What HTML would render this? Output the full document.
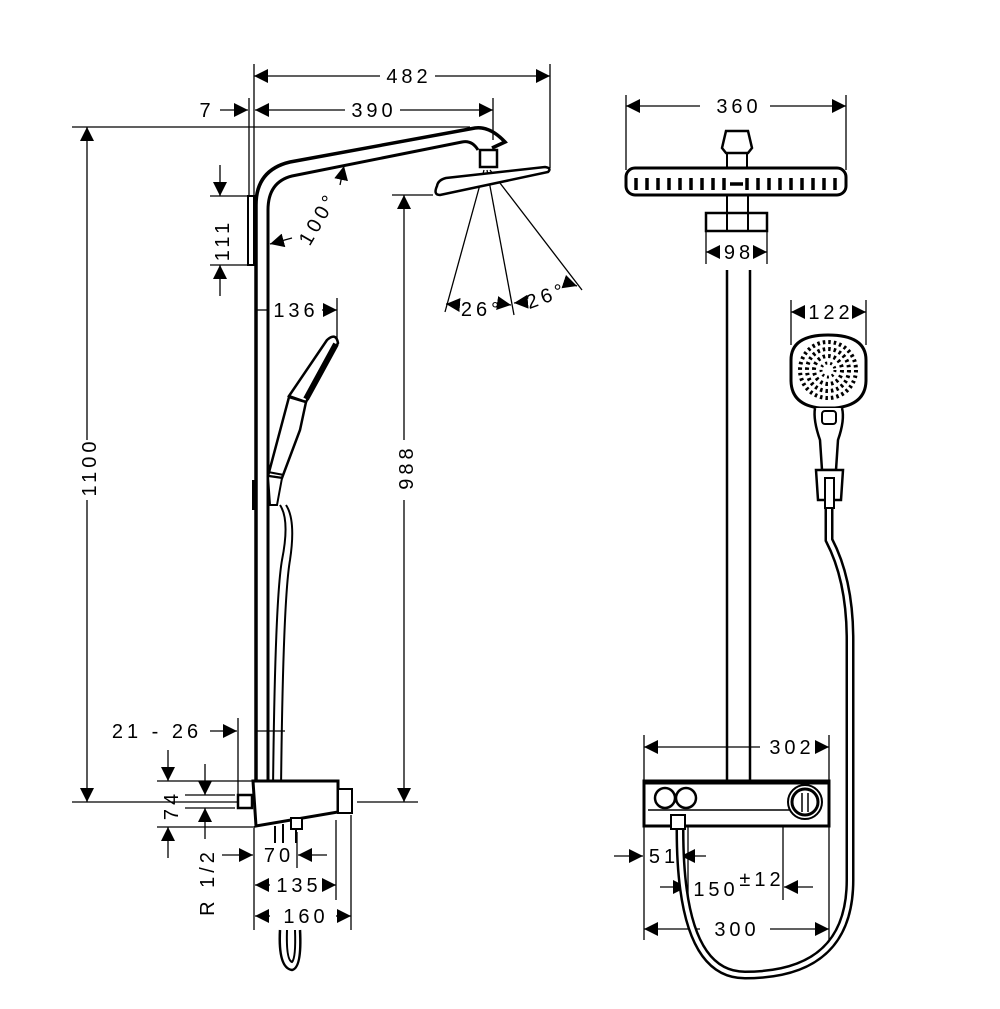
<!DOCTYPE html>
<html><head><meta charset="utf-8"><style>
html,body{margin:0;padding:0;background:#fff}
svg{display:block}
text{font-family:"Liberation Sans",sans-serif;font-size:20px;fill:#000;letter-spacing:4px}
</style></head><body>
<svg width="1000" height="1009" viewBox="0 0 1000 1009" xmlns="http://www.w3.org/2000/svg">
<defs>
<marker id="a" viewBox="0 0 10 10" refX="10" refY="5" markerWidth="14" markerHeight="14" markerUnits="userSpaceOnUse" orient="auto"><path d="M0,0 L10,5 L0,10z" fill="#000"/></marker>
</defs>
<g stroke="#000" stroke-width="1.3" fill="none">
<line x1="254" y1="64" x2="254" y2="200"/>
<line x1="550" y1="64" x2="550" y2="168"/>
<line x1="380" y1="76" x2="254" y2="76" marker-end="url(#a)"/>
<line x1="435" y1="76" x2="550" y2="76" marker-end="url(#a)"/>
<line x1="493" y1="98" x2="493" y2="140"/>
<line x1="249" y1="98" x2="249" y2="196"/>
<line x1="345" y1="110" x2="255" y2="110" marker-end="url(#a)"/>
<line x1="400" y1="110" x2="493" y2="110" marker-end="url(#a)"/>
<line x1="220" y1="110" x2="248" y2="110" marker-end="url(#a)"/>
<line x1="72" y1="127" x2="470" y2="127"/>
<line x1="87" y1="440" x2="87" y2="127" marker-end="url(#a)"/>
<line x1="87" y1="500" x2="87" y2="802" marker-end="url(#a)"/>
<line x1="72" y1="802" x2="245" y2="802"/>
<line x1="357" y1="802" x2="418" y2="802"/>
<line x1="392" y1="195" x2="433" y2="195"/>
<line x1="404" y1="440" x2="404" y2="195" marker-end="url(#a)"/>
<line x1="404" y1="500" x2="404" y2="802" marker-end="url(#a)"/>
<line x1="210" y1="196" x2="250" y2="196"/>
<line x1="210" y1="265" x2="250" y2="265"/>
<line x1="220" y1="165" x2="220" y2="196" marker-end="url(#a)"/>
<line x1="220" y1="296" x2="220" y2="265" marker-end="url(#a)"/>
<line x1="340" y1="185" x2="344" y2="166" marker-end="url(#a)"/>
<line x1="292" y1="238" x2="270" y2="244" marker-end="url(#a)"/>
<line x1="484" y1="170" x2="445" y2="312"/>
<line x1="487" y1="170" x2="514" y2="315"/>
<line x1="490" y1="170" x2="582" y2="290"/>
<line x1="460" y1="305" x2="446" y2="304" marker-end="url(#a)"/>
<line x1="497" y1="303" x2="511" y2="305" marker-end="url(#a)"/>
<line x1="525" y1="302" x2="514" y2="303" marker-end="url(#a)"/>
<line x1="565" y1="282" x2="577" y2="286" marker-end="url(#a)"/>
<line x1="337" y1="298" x2="337" y2="340"/>
<line x1="322" y1="310" x2="337" y2="310" marker-end="url(#a)"/>
<line x1="268" y1="310" x2="256" y2="310"/>
<line x1="238" y1="718" x2="238" y2="800"/>
<line x1="210" y1="731" x2="237" y2="731" marker-end="url(#a)"/>
<line x1="255" y1="731" x2="285" y2="731"/>
<line x1="157" y1="781" x2="253" y2="781"/>
<line x1="157" y1="827" x2="253" y2="827"/>
<line x1="168" y1="750" x2="168" y2="781" marker-end="url(#a)"/>
<line x1="168" y1="858" x2="168" y2="827" marker-end="url(#a)"/>
<line x1="185" y1="795" x2="235" y2="795"/>
<line x1="185" y1="808" x2="235" y2="808"/>
<line x1="205" y1="764" x2="205" y2="795" marker-end="url(#a)"/>
<line x1="205" y1="839" x2="205" y2="808" marker-end="url(#a)"/>
<line x1="254" y1="826" x2="254" y2="930"/>
<line x1="336" y1="820" x2="336" y2="900"/>
<line x1="351" y1="815" x2="351" y2="930"/>
<line x1="297" y1="832" x2="297" y2="868"/>
<line x1="222" y1="855" x2="253" y2="855" marker-end="url(#a)"/>
<line x1="327" y1="855" x2="298" y2="855" marker-end="url(#a)"/>
<line x1="270" y1="885" x2="255" y2="885" marker-end="url(#a)"/>
<line x1="322" y1="885" x2="336" y2="885" marker-end="url(#a)"/>
<line x1="270" y1="916" x2="255" y2="916" marker-end="url(#a)"/>
<line x1="336" y1="916" x2="351" y2="916" marker-end="url(#a)"/>
</g>
<g stroke="#000" fill="none">
<path d="M273,790 Q275,600 282,560 Q290,520 280,505" stroke-width="2"/>
<path d="M281,790 Q283,600 290,560 Q296,520 286,505" stroke-width="2"/>
<path d="M256,780 L256,205 Q256,170 290,162 L475,128 Q490,126 505,142 L492,148" stroke-width="3.5"/>
<path d="M268,780 L268,210 Q268,182 292,176 L462,142 Q472,140 478,150" stroke-width="3"/>
<rect x="248" y="196" width="6" height="69" stroke-width="2" fill="#fff"/>
<rect x="480" y="150" width="17" height="17" stroke-width="2.5" fill="#fff"/>
<path d="M437,186 Q438,180 446,178 L545,167 Q552,168 548,172 L440,195 Q433,195 437,186z" stroke-width="2.5" fill="#fff"/>
<path d="M289,396 L327,340 Q336,332 338,343 L306,402z" stroke-width="2.5" fill="#fff"/>
<line x1="336" y1="344" x2="306" y2="399" stroke-width="6"/>
<path d="M289,397 L306,402 L300,430 L282,478 L268,476z" stroke-width="2.5" fill="#fff"/>
<path d="M268,476 L282,478 L277,505 L270,505z" stroke-width="2" fill="#fff"/>
<line x1="268" y1="472" x2="284" y2="475" stroke-width="2"/>
<rect x="252" y="480" width="3" height="30" fill="#000" stroke="none"/>
<path d="M253,781 L338,781 L338,812 L256,826z" stroke-width="3" fill="#fff"/>
<rect x="338" y="789" width="14" height="24" stroke-width="2" fill="#fff"/>
<rect x="238" y="795" width="14" height="13" stroke-width="2.5" fill="#fff"/>
<rect x="291" y="818" width="11" height="11" stroke-width="2" fill="#fff"/>
<line x1="275" y1="826" x2="275" y2="843" stroke-width="2"/>
<line x1="283" y1="824" x2="283" y2="843" stroke-width="2"/>
<line x1="296" y1="829" x2="296" y2="843" stroke-width="2"/>
<path d="M280,930 Q278,968 292,970 Q302,968 300,930" stroke-width="2.5"/>
<path d="M287,930 Q286,960 292,962 Q296,958 295,930" stroke-width="2"/>
</g>
<g stroke="#000" stroke-width="1.3" fill="none">
<line x1="626" y1="95" x2="626" y2="170"/>
<line x1="846" y1="95" x2="846" y2="170"/>
<line x1="700" y1="106" x2="626" y2="106" marker-end="url(#a)"/>
<line x1="770" y1="106" x2="846" y2="106" marker-end="url(#a)"/>
<line x1="706" y1="232" x2="706" y2="264"/>
<line x1="767" y1="232" x2="767" y2="264"/>
<line x1="720" y1="252" x2="706" y2="252" marker-end="url(#a)"/>
<line x1="753" y1="252" x2="767" y2="252" marker-end="url(#a)"/>
<line x1="791" y1="300" x2="791" y2="345"/>
<line x1="866" y1="300" x2="866" y2="345"/>
<line x1="805" y1="312" x2="791" y2="312" marker-end="url(#a)"/>
<line x1="852" y1="312" x2="866" y2="312" marker-end="url(#a)"/>
<line x1="644" y1="735" x2="644" y2="940"/>
<line x1="829" y1="735" x2="829" y2="940"/>
<line x1="760" y1="747" x2="644" y2="747" marker-end="url(#a)"/>
<line x1="815" y1="747" x2="829" y2="747" marker-end="url(#a)"/>
<line x1="614" y1="856" x2="643" y2="856" marker-end="url(#a)"/>
<line x1="706" y1="856" x2="681" y2="856" marker-end="url(#a)"/>
<line x1="688" y1="826" x2="688" y2="900"/>
<line x1="783" y1="826" x2="783" y2="900"/>
<line x1="660" y1="887" x2="687" y2="887" marker-end="url(#a)"/>
<line x1="813" y1="887" x2="784" y2="887" marker-end="url(#a)"/>
<line x1="700" y1="929" x2="644" y2="929" marker-end="url(#a)"/>
<line x1="770" y1="929" x2="829" y2="929" marker-end="url(#a)"/>
</g>
<g stroke="#000" fill="none">
<path d="M722,148 L726,131 L748,131 L752,148 L748,153 L726,153z" stroke-width="2.5" fill="#fff"/>
<rect x="727" y="153" width="20" height="15" stroke-width="2"/>
<rect x="626" y="168" width="220" height="27" rx="9" stroke-width="3" fill="#fff"/>
<g stroke-width="3.5">
<line x1="636" y1="178" x2="636" y2="190"/><line x1="647" y1="178" x2="647" y2="190"/><line x1="658" y1="178" x2="658" y2="190"/><line x1="669" y1="178" x2="669" y2="190"/><line x1="680" y1="178" x2="680" y2="190"/><line x1="691" y1="178" x2="691" y2="190"/><line x1="702" y1="178" x2="702" y2="190"/><line x1="713" y1="178" x2="713" y2="190"/><line x1="724" y1="178" x2="724" y2="190"/><line x1="747" y1="178" x2="747" y2="190"/><line x1="758" y1="178" x2="758" y2="190"/><line x1="769" y1="178" x2="769" y2="190"/><line x1="780" y1="178" x2="780" y2="190"/><line x1="791" y1="178" x2="791" y2="190"/><line x1="802" y1="178" x2="802" y2="190"/><line x1="813" y1="178" x2="813" y2="190"/><line x1="824" y1="178" x2="824" y2="190"/><line x1="835" y1="178" x2="835" y2="190"/>
<line x1="730" y1="184" x2="743" y2="184"/>
</g>
<line x1="727" y1="196" x2="727" y2="232" stroke-width="2"/>
<line x1="748" y1="196" x2="748" y2="232" stroke-width="2"/>
<rect x="706" y="213" width="61" height="18" stroke-width="2.5" fill="none"/>
<line x1="727" y1="270" x2="727" y2="785" stroke-width="2.5"/>
<line x1="750" y1="270" x2="750" y2="785" stroke-width="2.5"/>
<path d="M829,500 L829,540 Q850,580 850,640 L850,880 Q850,975 745,975 Q680,975 680,830" stroke-width="9"/>
<path d="M829,500 L829,540 Q850,580 850,640 L850,880 Q850,975 745,975 Q680,975 680,830" stroke="#fff" stroke-width="4"/>
<path d="M791,360 Q791,335 828,335 Q866,335 866,360 L866,380 Q866,405 835,408 L820,408 Q791,405 791,380z" stroke-width="3" fill="#fff"/>
<circle cx="828" cy="370" r="28" stroke-width="4" stroke-dasharray="2.5 3"/>
<circle cx="828" cy="370" r="21" stroke-width="4" stroke-dasharray="2.5 3"/>
<circle cx="828" cy="370" r="14" stroke-width="4" stroke-dasharray="2.5 3"/>
<circle cx="828" cy="370" r="7" stroke-width="3" stroke-dasharray="2 3"/>
<path d="M815,408 Q813,420 820,440 L822,470 L836,470 L838,440 Q845,420 842,408" stroke-width="2.5" fill="#fff"/>
<rect x="822" y="411" width="14" height="13" rx="3" stroke-width="2"/>
<path d="M816,470 L843,470 L841,500 L818,500z" stroke-width="2.5" fill="#fff"/>
<rect x="825" y="478" width="9" height="30" stroke-width="2" fill="#fff"/>
<rect x="644" y="781" width="185" height="45" stroke-width="3" fill="#fff"/>
<line x1="644" y1="782" x2="829" y2="782" stroke-width="5"/>
<line x1="648" y1="810" x2="800" y2="810" stroke-width="1.5"/>
<circle cx="665" cy="798" r="10" stroke-width="2.5"/>
<circle cx="686" cy="798" r="10" stroke-width="2.5"/>
<circle cx="805" cy="802" r="17" stroke-width="2" fill="#fff"/>
<circle cx="805" cy="802" r="13" stroke-width="3"/>
<line x1="802" y1="793" x2="802" y2="812" stroke-width="1.5"/><line x1="808" y1="793" x2="808" y2="812" stroke-width="1.5"/>
<rect x="671" y="815" width="14" height="14" stroke-width="2" fill="#fff"/>
</g>
<text x="409" y="83" text-anchor="middle">482</text>
<text x="374" y="117" text-anchor="middle">390</text>
<text x="207" y="117" text-anchor="middle">7</text>
<text transform="translate(96,467) rotate(-90)" text-anchor="middle">1100</text>
<text transform="translate(413,467) rotate(-90)" text-anchor="middle">988</text>
<text transform="translate(229,240) rotate(-90)" text-anchor="middle">111</text>
<text transform="translate(324,222) rotate(-60)" text-anchor="middle">100°</text>
<text x="482" y="316" text-anchor="middle">26°</text>
<text transform="translate(549,302) rotate(-20)" text-anchor="middle">26°</text>
<text x="296" y="317" text-anchor="middle">136</text>
<text x="157" y="738" text-anchor="middle">21 - 26</text>
<text transform="translate(178,805) rotate(-90)" text-anchor="middle">74</text>
<text x="279" y="862" text-anchor="middle">70</text>
<text x="299" y="892" text-anchor="middle">135</text>
<text x="306" y="923" text-anchor="middle">160</text>
<text transform="translate(214,882) rotate(-90)" text-anchor="middle">R 1/2</text>
<text x="739" y="113" text-anchor="middle">360</text>
<text x="739" y="259" text-anchor="middle">98</text>
<text x="831" y="319" text-anchor="middle">122</text>
<text x="792" y="754" text-anchor="middle">302</text>
<text x="664" y="863" text-anchor="middle">51</text>
<text x="716" y="896" text-anchor="middle">150</text>
<text x="762" y="886" text-anchor="middle">±12</text>
<text x="737" y="936" text-anchor="middle">300</text>
</svg>
</body></html>
